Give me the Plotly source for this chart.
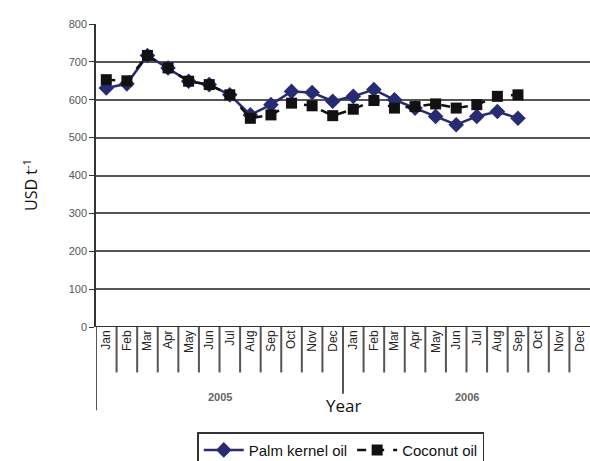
import plotly.graph_objects as go

months = ["Jan", "Feb", "Mar", "Apr", "May", "Jun", "Jul", "Aug", "Sep", "Oct", "Nov", "Dec"]
years = ["2005", "2006"]
categories = [f"{m} {y}" for y in years for m in months]
palm_kernel = [631, 642, 717, 684, 649, 640, 613, 560, 587, 622, 619, 596,
               609, 627, 600, 578, 556, 534, 556, 569, 551]
coconut = [653, 650, 717, 684, 649, 640, 613, 551, 560, 591, 584, 558,
           575, 598, 578, 582, 589, 578, 587, 609, 613]
y_ticks = [0, 100, 200, 300, 400, 500, 600, 700, 800]

xi = list(range(len(categories)))

fig = go.Figure()
fig.add_trace(go.Scatter(
    x=xi[:len(palm_kernel)], y=palm_kernel, name="Palm kernel oil", mode="lines+markers",
    line=dict(color="#272b72", width=2.5),
    marker=dict(symbol="diamond", size=12, color="#272b72")))
fig.add_trace(go.Scatter(
    x=xi[:len(coconut)], y=coconut, name="Coconut oil", mode="lines+markers",
    line=dict(color="#111111", width=2.5, dash="dash"),
    marker=dict(symbol="square", size=11, color="#111111")))

shapes = []
n = len(categories)
for i in range(n + 1):
    b = i - 0.5
    if i == 0:
        y0 = -0.275
    elif i == len(months):
        y0 = -0.22
    elif i == n:
        continue
    else:
        y0 = -0.15
    shapes.append(dict(type="line", xref="x", yref="paper", x0=b, x1=b, y0=0, y1=y0,
                       line=dict(color="#555555", width=2)))

annotations = []
for k, yr in enumerate(years):
    annotations.append(dict(x=len(months) * k + (len(months) - 1) / 2, xref="x", y=-0.23, yref="paper",
                            text="<b>" + yr + "</b>", showarrow=False, yanchor="middle",
                            font=dict(family="Liberation Sans", size=11, color="#666666")))
annotations.append(dict(x=0.5, xref="paper", y=-0.258, yref="paper", text="Year", showarrow=False,
                        yanchor="middle", font=dict(family="Open Sans", size=17, color="#111111")))
annotations.append(dict(x=-0.133, xref="paper", xanchor="center", y=0.47, yref="paper", yanchor="middle",
                        text="USD t<sup>-1</sup>", showarrow=False, textangle=-90,
                        font=dict(family="Open Sans", size=16, color="#111111")))

fig.update_layout(
    width=590, height=461,
    margin=dict(l=96, r=0, t=24, b=134, autoexpand=False),
    paper_bgcolor="white", plot_bgcolor="white",
    showlegend=True,
    legend=dict(orientation="h", x=0.205, xanchor="left", y=-0.347, yanchor="top",
                bordercolor="#333333", borderwidth=1.5,
                font=dict(family="Liberation Sans Narrow, Arial Narrow, sans-serif", size=15, color="#111111"),
                itemwidth=40, tracegroupgap=0),
    xaxis=dict(range=[-0.5, n - 0.5], tickvals=xi, ticktext=[m for y in years for m in months],
               tickangle=-90, showgrid=False, zeroline=False, showline=False, ticks="",
               tickfont=dict(family="Liberation Sans Narrow, Arial Narrow, sans-serif", size=12, color="#222222")),
    yaxis=dict(range=[0, 800], tickvals=y_ticks, showgrid=True, gridcolor="#555555", gridwidth=1.5,
               zeroline=False, showline=True, linecolor="#333333", linewidth=1.5,
               ticks="outside", ticklen=5, tickcolor="#333333",
               tickfont=dict(family="Liberation Sans", size=11, color="#555555")),
    shapes=shapes, annotations=annotations,
)
fig.add_hline(y=0, line=dict(color="#333333", width=2))
fig.write_html("out.html", config={"displayModeBar": False},
               post_script="document.body.style.margin='0';document.body.style.overflow='hidden';")
